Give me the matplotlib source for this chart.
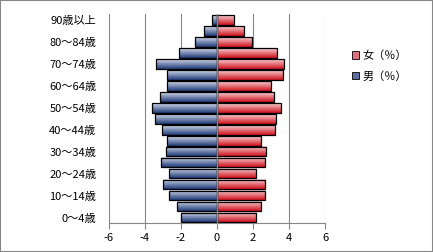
"""人口ピラミッド（男女別・5歳階級）を out.png に描く。"""
import numpy as np
import matplotlib
matplotlib.use("Agg")
import matplotlib.pyplot as plt
from matplotlib.patches import Rectangle, Patch

plt.rcParams["font.family"] = ["Noto Sans CJK JP", "DejaVu Sans"]

# 年齢階級（下から上へ）
ages = ["0～4歳", "5～9歳", "10～14歳", "15～19歳", "20～24歳", "25～29歳",
        "30～34歳", "35～39歳", "40～44歳", "45～49歳", "50～54歳", "55～59歳",
        "60～64歳", "65～69歳", "70～74歳", "75～79歳", "80～84歳", "85～89歳",
        "90歳以上"]
male = [2.0, 2.23, 2.66, 3.0, 2.66, 3.12, 2.82, 2.79, 3.04, 3.46,
        3.6, 3.18, 2.79, 2.79, 3.4, 2.12, 1.23, 0.69, 0.27]
female = [2.19, 2.45, 2.69, 2.69, 2.19, 2.69, 2.72, 2.45, 3.2, 3.3,
          3.57, 3.17, 3.02, 3.68, 3.74, 3.35, 1.97, 1.52, 0.97]
xticks = [-6, -4, -2, 0, 2, 4, 6]

BLUE_TOP, BLUE_BOT = "#d4dbea", "#1f3a78"
RED_TOP, RED_BOT = "#f8d2d6", "#d0101c"
GRID = "#868686"


def gradient_fill(ax, bars, top, bottom):
    # バーの中を上(明)から下(暗)へのグラデーションで塗る
    cmap = matplotlib.colors.LinearSegmentedColormap.from_list("g", [bottom, top])
    grad = np.linspace(0, 1, 64).reshape(-1, 1)
    for b in bars:
        x0, y0 = b.get_x(), b.get_y()
        x1, y1 = x0 + b.get_width(), y0 + b.get_height()
        ax.imshow(grad, extent=(min(x0, x1), max(x0, x1), y0, y1), origin="lower",
                  cmap=cmap, aspect="auto", zorder=2, interpolation="bilinear")


fig = plt.figure(figsize=(4.33, 2.52), dpi=100)
ax = fig.add_axes([0.251, 0.115, 0.5, 0.829])

y = np.arange(len(ages))
bm = ax.barh(y, [-v for v in male], height=0.9, facecolor="none",
             edgecolor="black", linewidth=0.9, zorder=3)
bf = ax.barh(y, female, height=0.9, facecolor="none",
             edgecolor="black", linewidth=0.9, zorder=3)
gradient_fill(ax, bm, BLUE_TOP, BLUE_BOT)
gradient_fill(ax, bf, RED_TOP, RED_BOT)
ax.axvline(0, color=GRID, linewidth=1.0, zorder=4)

ax.set_xlim(-6, 6)
ax.set_ylim(-0.5, len(ages) - 0.5)
ax.set_xticks(xticks)
ax.set_xticklabels([str(t) for t in xticks], fontsize=8)
ax.set_yticks(y[::2])
ax.set_yticklabels(ages[::2], fontsize=8)
ax.tick_params(axis="y", length=0, pad=9)
ax.tick_params(axis="x", length=4, color=GRID, direction="out", pad=3)
for t in xticks:
    ax.axvline(t, color=GRID, linewidth=0.8, zorder=1)
for s in ["top", "right", "left"]:
    ax.spines[s].set_visible(False)
ax.spines["bottom"].set_color(GRID)
ax.spines["bottom"].set_linewidth(0.8)

handles = [Patch(facecolor="#e0707c", edgecolor="black", linewidth=0.6, label="女（％）"),
           Patch(facecolor="#5a6e9c", edgecolor="black", linewidth=0.6, label="男（％）")]
fig.legend(handles=handles, loc="upper left", bbox_to_anchor=(0.79, 0.84),
           frameon=False, fontsize=8, handlelength=0.6, handleheight=0.6,
           handletextpad=0.3, labelspacing=0.9)

fig.patches.append(Rectangle((0, 0), 1, 1, transform=fig.transFigure, fill=False,
                             edgecolor=GRID, linewidth=1.5))
fig.savefig("out.png", dpi=100)
